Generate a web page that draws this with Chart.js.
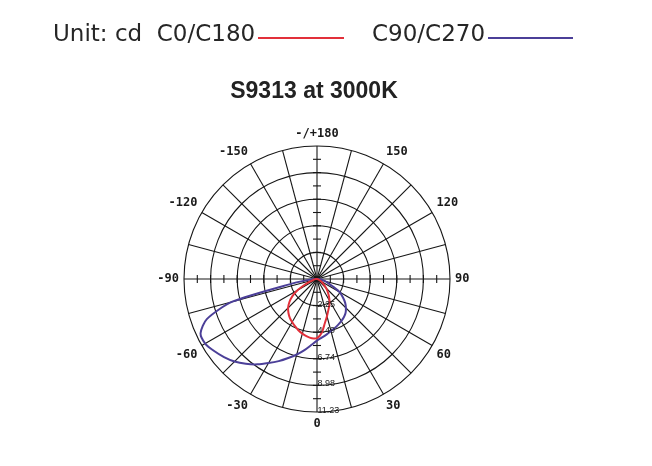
<!DOCTYPE html>
<html>
<head>
<meta charset="utf-8">
<script src="https://cdn.jsdelivr.net/npm/chart.js@4.4.1/dist/chart.umd.min.js"></script>
<style>
  html, body { margin: 0; padding: 0; background: #fff; }
  body { width: 652px; height: 466px; position: relative; overflow: hidden; }
  #polar { position: absolute; left: 0; top: 0; }
  .txt { position: absolute; white-space: pre; line-height: 23px; color: #1e1e1e; }
  .head { font: 23px 'DejaVu Sans', sans-serif; top: 20px; color: #262626; }
  .swatch { position: absolute; top: 37px; height: 2px; }
  .title { font: bold 23px 'Liberation Sans', Arial, sans-serif; top: 77px; left: 0; width: 628px; text-align: center; color: #222; }
</style>
</head>
<body>
<canvas id="polar" width="652" height="466"></canvas>
<div class="txt head" style="left:53px">Unit: cd  C0/C180</div>
<div class="swatch" style="left:258px;width:86px;background:#e2303a"></div>
<div class="txt head" style="left:372px">C90/C270</div>
<div class="swatch" style="left:488px;width:85px;background:#4b3f98"></div>
<div class="txt title">S9313 at 3000K</div>
<script>
(function () {
  'use strict';

  // gamma angle in degrees (0 = straight down, positive to the right)
  var gammaDeg = [
    -180, -175, -170, -165, -160, -155, -150, -145, -140, -135, -130, -125,
    -120, -115, -110, -105, -100, -95, -90, -85, -80, -75, -70, -65,
    -60, -55, -50, -45, -40, -35, -30, -25, -20, -15, -10, -5,
    0, 5, 10, 15, 20, 25, 30, 35, 40, 45, 50, 55,
    60, 65, 70, 75, 80, 85, 90, 95, 100, 105, 110, 115,
    120, 125, 130, 135, 140, 145, 150, 155, 160, 165, 170, 175
  ];

  // C0/C180 plane, cd
  var c0c180 = [
    0, 0, 0, 0, 0, 0, 0, 0, 0, 0, 0, 0,
    0, 0, 0, 0, 0, 0, 0, 0.1, 0.2, 0.35, 0.65, 1.15,
    1.9, 2.55, 3.05, 3.45, 3.75, 4.0, 4.2, 4.4, 4.6, 4.78, 4.92, 5.02,
    5.0, 4.55, 3.8, 3.25, 2.8, 2.45, 2.1, 1.75, 1.4, 1.1, 0.8, 0.55,
    0.35, 0.2, 0.1, 0.05, 0, 0, 0, 0, 0, 0, 0, 0,
    0, 0, 0, 0, 0, 0, 0, 0, 0, 0, 0, 0
  ];

  // C90/C270 plane, cd
  var c90c270 = [
    0, 0, 0, 0, 0, 0, 0, 0, 0, 0, 0, 0,
    0, 0, 0, 0, 0, 0, 0.1, 0.6, 2.0, 7.4, 9.9, 10.85,
    10.9, 10.6, 10.25, 9.85, 9.35, 8.8, 8.2, 7.65, 7.1, 6.6, 6.1, 5.6,
    5.2, 4.95, 4.75, 4.55, 4.4, 4.25, 4.1, 3.95, 3.75, 3.45, 3.1, 2.65,
    2.2, 1.45, 1.0, 0.7, 0.45, 0.3, 0.15, 0, 0, 0, 0, 0,
    0, 0, 0, 0, 0, 0, 0, 0, 0, 0, 0, 0
  ];

  var maxCd = 11.23;
  var ringStep = 2.246;

  var RED = '#e2303a';
  var BLUE = '#4b3f98';
  var GRID = '#161616';

  // target geometry of the diagram
  var CENTER_X = 317;
  var CENTER_Y = 279;
  var RADIUS = 133;

  // radar runs clockwise from the start angle, so walk the gammas downwards
  var n = gammaDeg.length;
  var zeroAt = gammaDeg.indexOf(0);
  var order = [];
  for (var i = 0; i < n; i++) {
    order.push((zeroAt - i + n) % n);
  }
  function pick(arr) {
    return order.map(function (j) { return arr[j]; });
  }

  var axisMarks = {
    id: 'axisMarks',
    beforeDatasetsDraw: function (chart) {
      var s = chart.scales.r;
      var ctx = chart.ctx;
      var quarter = n / 4;
      ctx.save();
      ctx.strokeStyle = GRID;
      ctx.lineWidth = 1.1;
      for (var q = 0; q < 4; q++) {
        for (var k = 1; k <= 9; k++) {
          var p = s.getPointPosition(q * quarter, s.getDistanceFromCenterForValue(k * ringStep / 2));
          var px = -Math.sin(p.angle) * 4;
          var py = Math.cos(p.angle) * 4;
          ctx.beginPath();
          ctx.moveTo(p.x - px, p.y - py);
          ctx.lineTo(p.x + px, p.y + py);
          ctx.stroke();
        }
      }
      ctx.restore();
    },
    afterDatasetsDraw: function (chart) {
      var s = chart.scales.r;
      var ctx = chart.ctx;
      ctx.save();
      ctx.font = '9px "Liberation Sans Narrow", "Liberation Sans", sans-serif';
      ctx.fillStyle = '#1a1a1a';
      ctx.textAlign = 'left';
      ctx.textBaseline = 'middle';
      s.ticks.forEach(function (t) {
        if (!t.value) return;
        var p = s.getPointPosition(0, s.getDistanceFromCenterForValue(t.value));
        ctx.fillText(t.value.toFixed(2), p.x + 0.5, p.y - 1.5);
      });
      ctx.restore();
    }
  };

  var chart = new Chart(document.getElementById('polar'), {
    type: 'radar',
    data: {
      labels: pick(gammaDeg),
      datasets: [
        {
          label: 'C0/C180',
          data: pick(c0c180),
          borderColor: RED,
          borderWidth: 2,
          pointRadius: 0,
          fill: false,
          tension: 0.25
        },
        {
          label: 'C90/C270',
          data: pick(c90c270),
          borderColor: BLUE,
          borderWidth: 2,
          pointRadius: 0,
          fill: false,
          tension: 0.25
        }
      ]
    },
    options: {
      responsive: false,
      animation: false,
      layout: { padding: { top: 116, bottom: 23, left: 154, right: 172 } },
      plugins: {
        legend: { display: false },
        tooltip: { enabled: false }
      },
      scales: {
        r: {
          startAngle: 180,
          min: 0,
          max: maxCd,
          ticks: { display: false, stepSize: ringStep },
          grid: { circular: true, color: GRID, lineWidth: 1.1 },
          angleLines: {
            color: GRID,
            lineWidth: function (c) { return c.index % 3 === 0 ? 1.1 : 0; }
          },
          pointLabels: {
            padding: 5,
            color: '#1a1a1a',
            font: { family: 'DejaVu Sans Mono', size: 12, weight: 'bold' },
            callback: function (label) {
              var a = Number(label);
              if (a % 30 !== 0) return '';
              return Math.abs(a) === 180 ? '-/+180' : String(a);
            }
          }
        }
      }
    },
    plugins: [axisMarks]
  });

  // nudge the layout padding until the scale sits where the diagram does
  for (var k = 0; k < 8; k++) {
    var s = chart.scales.r;
    var dr = s.drawingArea - RADIUS;
    var dx = s.xCenter - CENTER_X;
    var dy = s.yCenter - CENTER_Y;
    if (!dr && !dx && !dy) break;
    var pad = chart.config.options.layout.padding;
    chart.config.options.layout.padding = {
      top: pad.top + dr - dy,
      bottom: pad.bottom + dr + dy,
      left: pad.left + dr - dx,
      right: pad.right + dr + dx
    };
    chart.update('none');
  }
})();
</script>
</body>
</html>
